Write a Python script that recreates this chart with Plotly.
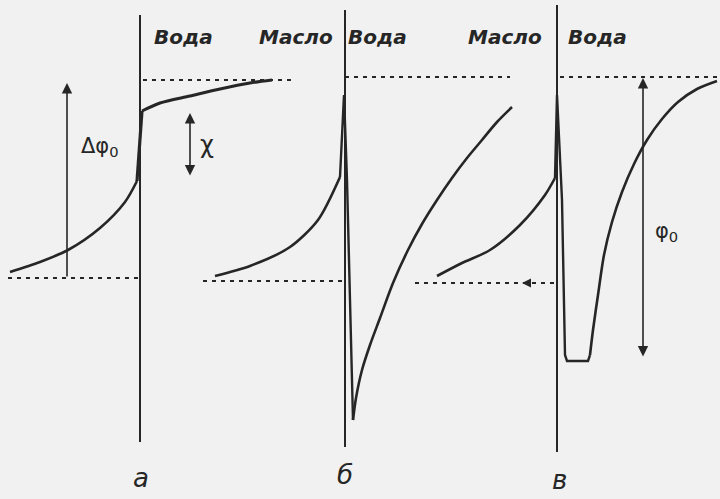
import plotly.graph_objects as go

# ---- data (figure coordinates: x to the right, y downward, 720 x 499 frame) ----
# panel а
A_LEFT_X = [10, 40, 68, 100, 125, 137]
A_LEFT_Y = [272, 262, 250, 228, 202, 181]
A_JUMP_X = [137, 142]
A_JUMP_Y = [181, 111]
A_RIGHT_X = [142, 160, 190, 220, 250, 272]
A_RIGHT_Y = [111, 103, 96, 89, 83, 80]

# panel б
B_LEFT_X = [215, 250, 290, 318, 340]
B_LEFT_Y = [276, 266, 247, 220, 177]
B_SPIKE_X = [340, 344, 347, 353]
B_SPIKE_Y = [177, 95, 180, 420]
B_RIGHT_X = [353, 356, 362, 370, 380, 393, 408, 422, 437, 452, 467, 482, 497, 512]
B_RIGHT_Y = [420, 398, 370, 345, 318, 283, 250, 224, 200, 178, 158, 140, 122, 107]

# panel в
C_LEFT_X = [437, 462, 490, 520, 545, 555]
C_LEFT_Y = [276, 263, 250, 225, 195, 178]
C_WELL_X = [555, 557, 562, 564, 565, 567, 588, 590]
C_WELL_Y = [178, 95, 200, 300, 355, 361, 361, 355]
C_RIGHT_X = [590, 593, 598, 604, 612, 622, 634, 647, 662, 678, 697, 717]
C_RIGHT_Y = [355, 330, 295, 255, 222, 192, 164, 140, 119, 102, 89, 81]

# interfaces (x, y_top, y_bottom)
INTERFACE_X = [140, 345, 557]
INTERFACE_TOP = [15, 10, 5]
INTERFACE_BOTTOM = [442, 447, 452]

# dashed reference levels (x0, x1, y)
DASH_X0 = [143, 8, 345, 203, 560, 415]
DASH_X1 = [295, 138, 510, 343, 720, 555]
DASH_Y = [80, 278, 77, 281, 77, 283]

# phase labels
PHASE_TEXT = ["Вода", "Масло", "Вода", "Масло", "Вода"]
PHASE_X = [183, 296, 377, 505, 597]
PHASE_Y = [37, 37, 37, 37, 37]

PANEL_TEXT = ["а", "б", "в"]
PANEL_X = [141, 345, 559]
PANEL_Y = [478, 475, 480]

INK = "#262626"
BG = "#f1f1f1"

fig = go.Figure()


def curve(xs, ys, width=2.6, shape="spline"):
    fig.add_trace(go.Scatter(x=xs, y=ys, mode="lines",
                             line=dict(color=INK, width=width, shape=shape, smoothing=0.8),
                             hoverinfo="skip", showlegend=False))


curve(A_LEFT_X, A_LEFT_Y)
curve(A_JUMP_X, A_JUMP_Y, 3.2, "linear")
curve(A_RIGHT_X, A_RIGHT_Y, 3.0)
curve(B_LEFT_X, B_LEFT_Y)
curve(B_SPIKE_X, B_SPIKE_Y, 2.4, "linear")
curve(B_RIGHT_X, B_RIGHT_Y)
curve(C_LEFT_X, C_LEFT_Y)
curve(C_WELL_X, C_WELL_Y, 2.4, "linear")
curve(C_RIGHT_X, C_RIGHT_Y)

for x, t, b in zip(INTERFACE_X, INTERFACE_TOP, INTERFACE_BOTTOM):
    fig.add_trace(go.Scatter(x=[x, x], y=[t, b], mode="lines",
                             line=dict(color=INK, width=2),
                             hoverinfo="skip", showlegend=False))

for x0, x1, y in zip(DASH_X0, DASH_X1, DASH_Y):
    fig.add_trace(go.Scatter(x=[x0, x1], y=[y, y], mode="lines",
                             line=dict(color=INK, width=1.8, dash="4px,5px"),
                             hoverinfo="skip", showlegend=False))

# arrows
def arrow(x, y_tail, y_head, both=False):
    fig.add_annotation(x=x, y=y_head, ax=x, ay=y_tail, xref="x", yref="y",
                       axref="x", ayref="y", text="", showarrow=True,
                       arrowhead=2, arrowsize=1.3, arrowwidth=1.6,
                       arrowcolor=INK, arrowside="end+start" if both else "end",
                       startarrowhead=2, startarrowsize=1.3)

arrow(67, 278, 83)                 # Δφ0
arrow(190, 177, 113, both=True)    # χ
arrow(643, 358, 78, both=True)     # φ0
fig.add_annotation(x=522, y=283, ax=532, ay=283, xref="x", yref="y", axref="x", ayref="y",
                   text="", showarrow=True, arrowhead=2, arrowsize=1.2, arrowwidth=1.5,
                   arrowcolor=INK)

for t, x, y in zip(PHASE_TEXT, PHASE_X, PHASE_Y):
    fig.add_annotation(x=x, y=y, text=t, showarrow=False, xref="x", yref="y",
                       font=dict(family="DejaVu Sans", size=20, color=INK,
                                 style="italic", weight="bold"))

for t, x, y in zip(PANEL_TEXT, PANEL_X, PANEL_Y):
    fig.add_annotation(x=x, y=y, text=t, showarrow=False, xref="x", yref="y",
                       font=dict(family="DejaVu Sans", size=26, color=INK, style="italic"))

fig.add_annotation(x=100, y=147, text="Δφ<sub>0</sub>", showarrow=False, xref="x", yref="y",
                   font=dict(family="DejaVu Sans", size=21, color=INK))
fig.add_annotation(x=207, y=145, text="χ", showarrow=False, xref="x", yref="y",
                   font=dict(family="DejaVu Sans", size=24, color=INK))
fig.add_annotation(x=666, y=232, text="φ<sub>0</sub>", showarrow=False, xref="x", yref="y",
                   font=dict(family="DejaVu Sans", size=21, color=INK))

fig.update_layout(
    width=720, height=499,
    margin=dict(l=0, r=0, t=0, b=0),
    paper_bgcolor=BG, plot_bgcolor=BG,
    xaxis=dict(range=[0, 720], visible=False, fixedrange=True),
    yaxis=dict(range=[499, 0], visible=False, fixedrange=True),
    showlegend=False,
)

fig.write_html("out.html", config={"displayModeBar": False},
               post_script="document.body.style.margin='0px';"
                           "document.body.style.background='" + BG + "';")
